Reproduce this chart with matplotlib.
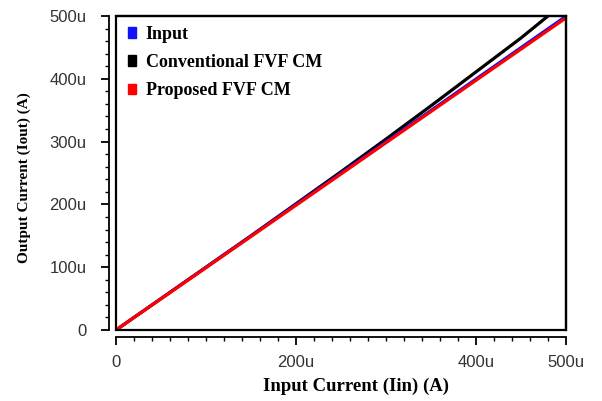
import matplotlib
matplotlib.use("Agg")
import matplotlib.pyplot as plt
from matplotlib.patches import Patch, Rectangle
from matplotlib.ticker import MultipleLocator, FuncFormatter

# Data (currents in uA)
iin = [0, 50, 100, 150, 200, 250, 300, 350, 400, 450, 500]
input_out = [0, 50, 100, 150, 200, 250, 300, 350, 400, 450, 500]

conv_iin = [0, 50, 100, 150, 200, 250, 300, 350, 400, 450, 480]
conv_out = [0, 50, 100, 150, 201, 252, 304, 357, 411, 465, 500]

prop_out = [0, 49.6, 99.2, 148.9, 198.6, 248.4, 298.2, 347.9, 397.6, 447.3, 497]

series_labels = ["Input", "Conventional FVF CM", "Proposed FVF CM"]
series_colors = ["#1010ff", "#000000", "#ff0000"]

serif = ["Liberation Serif", "DejaVu Serif"]
sans = ["Liberation Sans", "DejaVu Sans"]

fig = plt.figure(figsize=(6.02, 4.01), dpi=100)
ax = fig.add_axes([116 / 602, 71 / 401, 450 / 602, 314 / 401])

ax.plot(conv_iin, conv_out, color=series_colors[1], lw=2.3, solid_capstyle="butt")
ax.plot(iin, input_out, color=series_colors[0], lw=2.0, solid_capstyle="butt")
ax.plot(iin, prop_out, color=series_colors[2], lw=2.3, solid_capstyle="butt")

ax.set_xlim(0, 500)
ax.set_ylim(0, 500)

# frame box around plotting area
ax.add_patch(Rectangle((0, 0), 1, 1, transform=ax.transAxes, fill=False,
                       lw=1.6, ec="black", clip_on=False, zorder=5))
ax.spines["top"].set_linewidth(1.6)
ax.spines["right"].set_linewidth(1.6)
for side in ["left", "bottom"]:
    ax.spines[side].set_position(("outward", 5))
    ax.spines[side].set_linewidth(1.3)

ax.set_xticks([0, 200, 400, 500])
ax.xaxis.set_minor_locator(MultipleLocator(20))
ax.yaxis.set_major_locator(MultipleLocator(100))
ax.yaxis.set_minor_locator(MultipleLocator(20))

fmt = FuncFormatter(lambda v, p: "0" if v == 0 else f"{int(v)}u")
ax.xaxis.set_major_formatter(fmt)
ax.yaxis.set_major_formatter(fmt)

ax.tick_params(which="major", length=6, width=1.3, labelsize=12,
               labelcolor="#333333")
ax.tick_params(which="minor", length=3, width=1.0)
ax.tick_params(axis="x", which="major", pad=7)
ax.tick_params(axis="y", which="major", pad=10)
for lab in ax.get_xticklabels() + ax.get_yticklabels():
    lab.set_fontfamily(sans)

ax.set_xlabel("Input Current (Iin) (A)", fontsize=13.5, fontweight="bold",
              family=serif)
ax.set_ylabel("Output Current (Iout) (A)", fontsize=11, fontweight="bold",
              family=serif)
ax.xaxis.set_label_coords((356 - 116) / 450, -(378 - 330) / 314)
ax.yaxis.set_label_coords(-(116 - 31) / 450, (330 - 178) / 314)

handles = [Patch(color=c) for c in series_colors]
ax.legend(handles, series_labels, loc="upper left",
          bbox_to_anchor=(12 / 450, 1 - 10 / 314), frameon=False,
          prop={"family": serif, "weight": "bold", "size": 13},
          handlelength=0.42, handleheight=0.55, handletextpad=0.55,
          labelspacing=0.62, borderpad=0, borderaxespad=0)

fig.savefig("out.png", dpi=100)
